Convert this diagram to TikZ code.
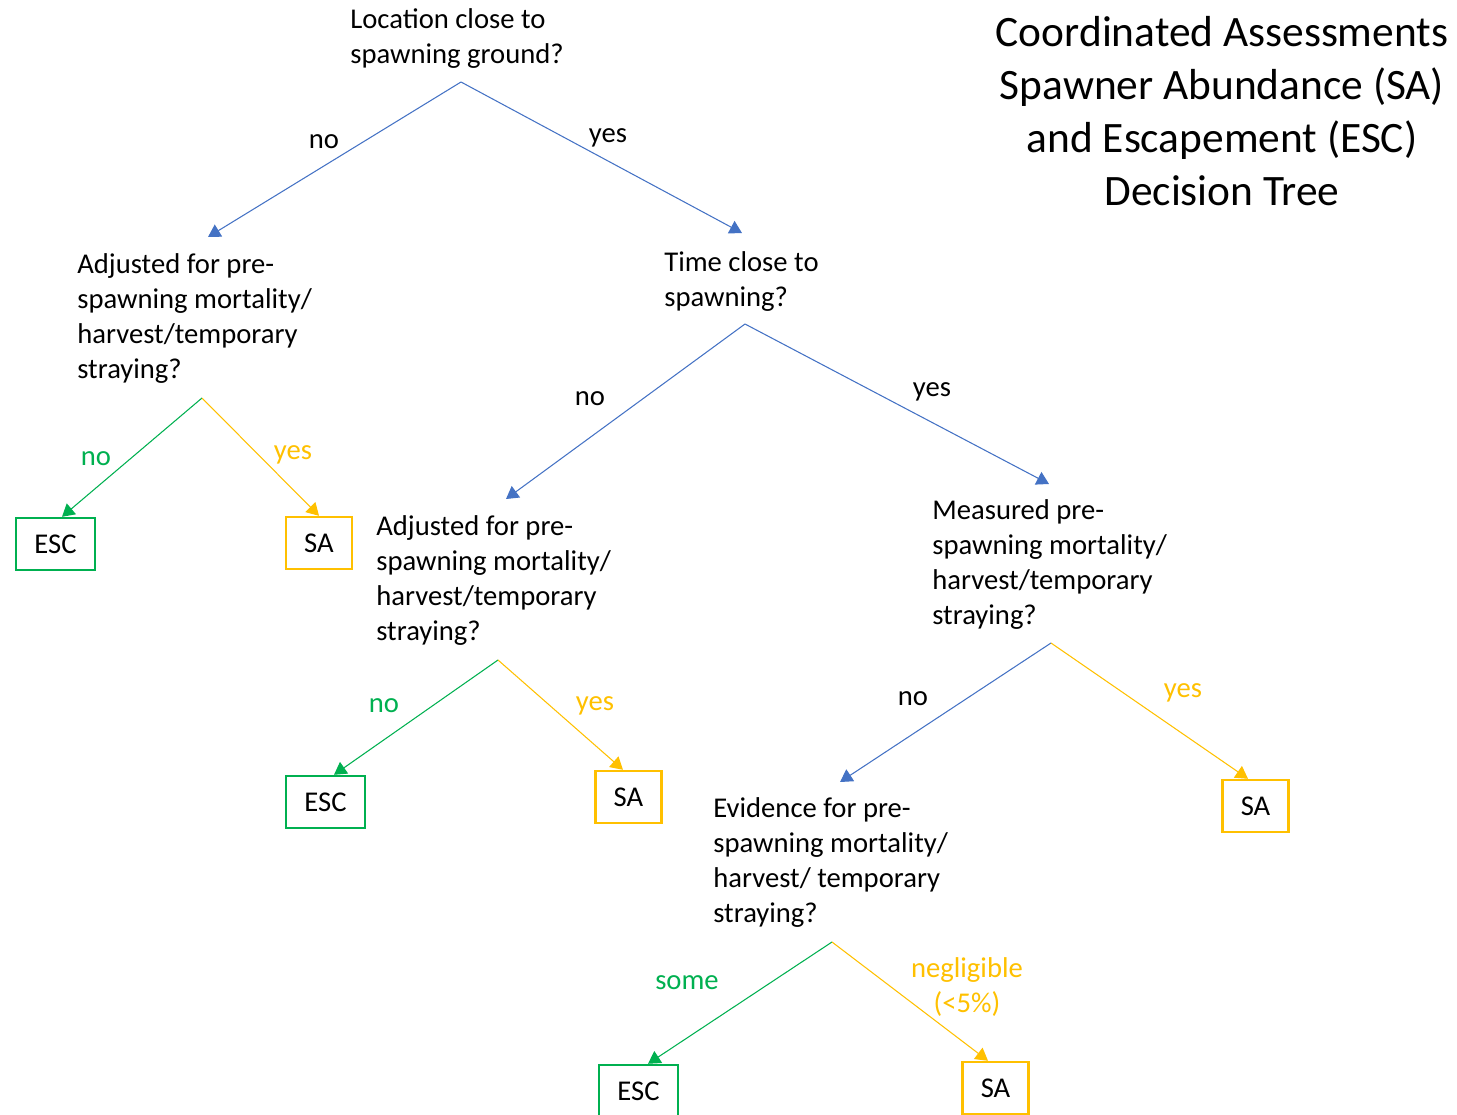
\documentclass[tikz,border=0pt]{standalone}
\usepackage{fontspec}
\setmainfont{Carlito}
\usetikzlibrary{arrows.meta}
\definecolor{askblue}{HTML}{4472C4}
\definecolor{escgreen}{HTML}{00B050}
\definecolor{sagold}{HTML}{FFC000}
\tikzset{
  question/.style={anchor=north west,align=left,inner sep=0pt,font=\fontsize{16.3}{19.9}\selectfont},
  answer/.style={inner sep=0pt,font=\fontsize{16.3}{19.9}\selectfont},
  branch/.style={line width=0.6pt,-{Triangle[length=7pt,width=8pt]}},
  outcome/.style={draw,line width=1.4pt,minimum height=1.04cm,inner sep=0pt,font=\fontsize{16.3}{19.9}\selectfont},
  escbox/.style={outcome,draw=escgreen,minimum width=1.58cm},
  sabox/.style={outcome,draw=sagold,minimum width=1.32cm}
}
\begin{document}
\begin{tikzpicture}[x=0.02cm,y=-0.02cm]
  \useasboundingbox (0,0) rectangle (1457,1115);
  % title
  \node[align=center,anchor=north,inner sep=0pt,font=\fontsize{24.7}{30.2}\selectfont] (title) at (1222,16)
    {Coordinated Assessments\\Spawner Abundance (SA)\\and Escapement (ESC)\\Decision Tree};
  % questions
  \node[question] (q1) at (350,8) {Location close to\\spawning ground?};
  \node[question] (q2) at (77,253) {Adjusted for pre-\\spawning mortality/\\harvest/temporary\\straying?};
  \node[question] (q3) at (664,251) {Time close to\\spawning?};
  \node[question] (q4) at (376,515) {Adjusted for pre-\\spawning mortality/\\harvest/temporary\\straying?};
  \node[question] (q5) at (932,499) {Measured pre-\\spawning mortality/\\harvest/temporary\\straying?};
  \node[question] (q6) at (713,797) {Evidence for pre-\\spawning mortality/\\harvest/ temporary\\straying?};
  \coordinate (q1fork) at (461,82);
  \coordinate (q2fork) at (202,398);
  \coordinate (q3fork) at (745,324);
  \coordinate (q4fork) at (498,660);
  \coordinate (q5fork) at (1051,643);
  \coordinate (q6fork) at (832,942);
  \coordinate (q2tip) at (208,237);
  \coordinate (q3tip) at (742,233);
  \coordinate (q4tip) at (506,499);
  \coordinate (q5tip) at (1049,484);
  \coordinate (q6tip) at (840,782);
  % outcomes
  \node[escbox] (esc1) at (55.5,544) {ESC};
  \node[sabox] (sa1) at (319,543) {SA};
  \node[escbox] (esc2) at (325.5,802) {ESC};
  \node[sabox] (sa2) at (628.5,797) {SA};
  \node[sabox] (sa3) at (1255.5,806) {SA};
  \node[escbox] (esc3) at (638.5,1091) {ESC};
  \node[sabox] (sa4) at (995.5,1088) {SA};
  % branches
  \draw[branch,askblue] (q1fork) -- (q2tip);
  \draw[branch,askblue] (q1fork) -- (q3tip);
  \draw[branch,escgreen] (q2fork) -- ([xshift=0.13cm]esc1.north);
  \draw[branch,sagold] (q2fork) -- (sa1.north);
  \draw[branch,askblue] (q3fork) -- (q4tip);
  \draw[branch,askblue] (q3fork) -- (q5tip);
  \draw[branch,escgreen] (q4fork) -- ([xshift=0.17cm]esc2.north);
  \draw[branch,sagold] (q4fork) -- ([xshift=-0.11cm]sa2.north);
  \draw[branch,askblue] (q5fork) -- (q6tip);
  \draw[branch,sagold] (q5fork) -- ([xshift=-0.15cm]sa3.north);
  \draw[branch,escgreen] (q6fork) -- ([xshift=0.19cm]esc3.north);
  \draw[branch,sagold] (q6fork) -- ([xshift=-0.15cm]sa4.north);
  % answers
  \node[answer] (a1no) at (324,142) {no};
  \node[answer] (a1yes) at (608,138) {yes};
  \node[answer,escgreen] (a2no) at (96,459) {no};
  \node[answer,sagold] (a2yes) at (293,455) {yes};
  \node[answer] (a3no) at (590,399) {no};
  \node[answer] (a3yes) at (932,392) {yes};
  \node[answer,escgreen] (a4no) at (384,706) {no};
  \node[answer,sagold] (a4yes) at (595,706) {yes};
  \node[answer] (a5no) at (913,699) {no};
  \node[answer,sagold] (a5yes) at (1183,693) {yes};
  \node[answer,escgreen] (a6some) at (687,983) {some};
  \node[answer,sagold,align=center] (a6neg) at (967,987) {negligible\\(<5\%)};
\end{tikzpicture}
\end{document}
